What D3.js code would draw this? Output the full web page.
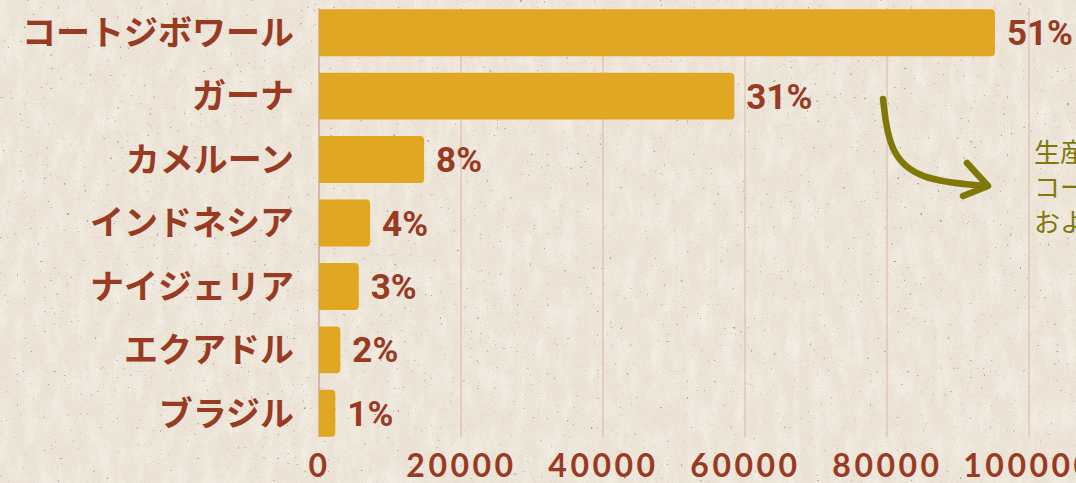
<!DOCTYPE html>
<html>
<head>
<meta charset="utf-8">
<script src="https://cdn.jsdelivr.net/npm/d3@7"></script>
<style>
  html, body { margin: 0; padding: 0; background: #eee7db; }
  svg { display: block; }
</style>
</head>
<body>
<svg id="chart" width="1076" height="483"></svg>
<script>
const categories = ["コートジボワール", "ガーナ", "カメルーン", "インドネシア", "ナイジェリア", "エクアドル", "ブラジル"];
const values = [95200, 58500, 14800, 7200, 5600, 3000, 2300];
const shareLabels = ["51%", "31%", "8%", "4%", "3%", "2%", "1%"];
const tickValues = [0, 20000, 40000, 60000, 80000, 100000];
const noteLines = ["生産量の8割以上は", "コートジボワールと", "およびガーナ産"];

const W = 1076, H = 483;
const svg = d3.select("#chart");
const defs = svg.append("defs");

// paper texture
const f1 = defs.append("filter").attr("id", "grain").attr("x", 0).attr("y", 0).attr("width", "100%").attr("height", "100%");
f1.append("feTurbulence").attr("type", "fractalNoise").attr("baseFrequency", "0.9").attr("numOctaves", 3).attr("seed", 7);
f1.append("feColorMatrix").attr("type", "matrix")
  .attr("values", "0 0 0 0 0.62  0 0 0 0 0.52  0 0 0 0 0.44  0.8 0 0 0 -0.38");
const f2 = defs.append("filter").attr("id", "fiber").attr("x", 0).attr("y", 0).attr("width", "100%").attr("height", "100%");
f2.append("feTurbulence").attr("type", "fractalNoise").attr("baseFrequency", "0.08 0.03").attr("numOctaves", 4).attr("seed", 11);
f2.append("feColorMatrix").attr("type", "matrix")
  .attr("values", "0 0 0 0 1  0 0 0 0 0.98  0 0 0 0 0.96  0.8 0 0 0 -0.32");
const f3 = defs.append("filter").attr("id", "specks").attr("x", 0).attr("y", 0).attr("width", "100%").attr("height", "100%");
f3.append("feTurbulence").attr("type", "fractalNoise").attr("baseFrequency", "0.3").attr("numOctaves", 2).attr("seed", 23);
f3.append("feColorMatrix").attr("type", "matrix")
  .attr("values", "0 0 0 0 0.38  0 0 0 0 0.36  0 0 0 0 0.35  10 0 0 0 -7.6");

svg.append("rect").attr("width", W).attr("height", H).attr("fill", "#ede5d8");
svg.append("rect").attr("width", W).attr("height", H).attr("filter", "url(#fiber)");
svg.append("rect").attr("width", W).attr("height", H).attr("filter", "url(#grain)");
svg.append("rect").attr("width", W).attr("height", H).attr("filter", "url(#specks)");

const x = d3.scaleLinear().domain([0, 100000]).range([319, 1029]);
const y = d3.scaleBand().domain(categories).range([1, 445]).paddingInner(0.26).paddingOuter(0.13);

const textColor = "#993a22";

// gridlines
svg.append("g").selectAll("line").data(tickValues.slice(1)).join("line")
  .attr("x1", d => x(d)).attr("x2", d => x(d))
  .attr("y1", 8).attr("y2", 437)
  .attr("stroke", "#dcb6a8").attr("stroke-width", 1);

// zero line
svg.append("line").attr("x1", x(0)).attr("x2", x(0)).attr("y1", 8).attr("y2", 437)
  .attr("stroke", "#b98a86").attr("stroke-width", 1);

// bars with rounded right corners
const r = 4;
svg.append("g").selectAll("path").data(values).join("path")
  .attr("d", (d, i) => {
    const x0 = x(0), x1 = x(d), y0 = y(categories[i]), h = y.bandwidth();
    return `M${x0},${y0} H${x1 - r} Q${x1},${y0} ${x1},${y0 + r} V${y0 + h - r} Q${x1},${y0 + h} ${x1 - r},${y0 + h} H${x0} Z`;
  })
  .attr("fill", "#e1a622");

// category labels
svg.append("g").selectAll("text").data(categories).join("text")
  .attr("x", 294)
  .attr("y", d => y(d) + y.bandwidth() / 2)
  .attr("dy", "0.36em")
  .attr("text-anchor", "end")
  .attr("font-family", "'Noto Sans CJK JP', sans-serif")
  .attr("font-weight", 700)
  .attr("font-size", 34)
  .attr("fill", textColor)
  .text(d => d);

// value labels
svg.append("g").selectAll("text").data(values).join("text")
  .attr("x", d => x(d) + 12)
  .attr("y", (d, i) => y(categories[i]) + y.bandwidth() / 2)
  .attr("dy", "0.36em")
  .attr("font-family", "Roboto, sans-serif")
  .attr("font-weight", 700)
  .attr("font-size", 35)
  .attr("fill", textColor)
  .text((d, i) => shareLabels[i]);

// x axis
const xAxis = d3.axisBottom(x).tickValues(tickValues).tickFormat(d3.format("d")).tickSize(0).tickPadding(0);
const gx = svg.append("g").attr("transform", "translate(0,477)").call(xAxis);
gx.select(".domain").remove();
gx.selectAll("text")
  .attr("dy", 0)
  .attr("font-family", "Lato, sans-serif")
  .attr("font-weight", 700)
  .attr("font-size", 32)
  .attr("letter-spacing", "3.5px")
  .attr("fill", textColor);

// annotation arrow
const olive = "#80790a";
svg.append("path")
  .attr("d", d3.line().curve(d3.curveBasis)([[883, 99], [889, 152], [918, 180], [986, 186]]))
  .attr("fill", "none").attr("stroke", olive).attr("stroke-width", 6.5).attr("stroke-linecap", "round");
svg.append("path")
  .attr("d", "M967,163 L988,186 L963,196")
  .attr("fill", "none").attr("stroke", olive).attr("stroke-width", 6.5)
  .attr("stroke-linecap", "round").attr("stroke-linejoin", "round");

// annotation text
svg.append("g").selectAll("text").data(noteLines).join("text")
  .attr("x", 1034)
  .attr("y", (d, i) => 162 + i * 35)
  .attr("font-family", "'Noto Sans CJK JP', sans-serif")
  .attr("font-weight", 400)
  .attr("font-size", 26)
  .attr("fill", olive)
  .text(d => d);
</script>
</body>
</html>
